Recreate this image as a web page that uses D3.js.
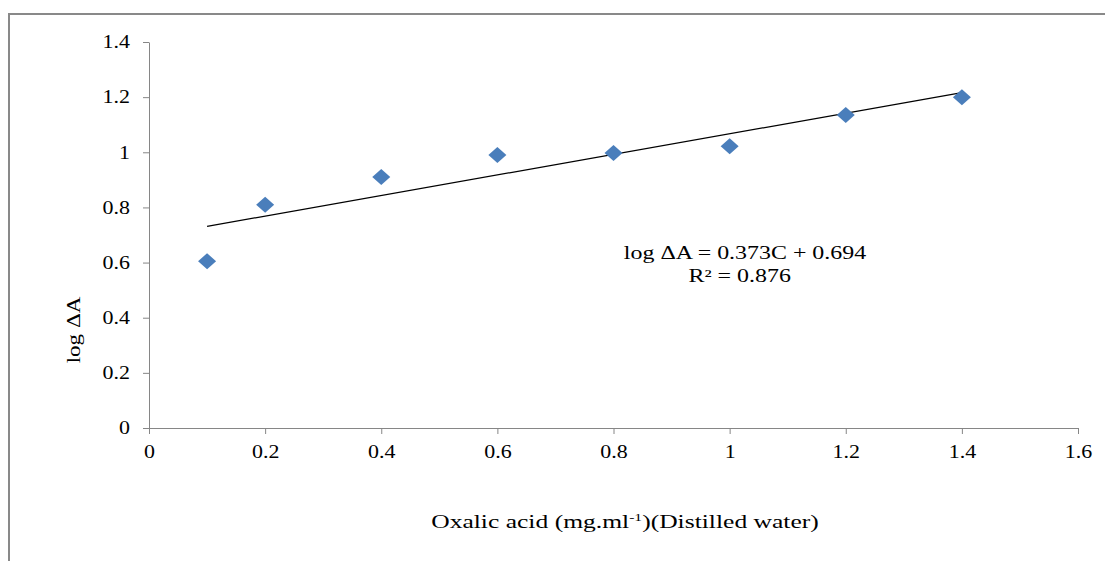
<!DOCTYPE html>
<html lang="en">
<head>
<meta charset="UTF-8">
<title>log ΔA vs oxalic acid</title>
<script src="https://cdn.jsdelivr.net/npm/d3@7"></script>
<style>
  body { margin: 0; background: #fff; }
  svg text { font-family: "Liberation Serif", "Times New Roman", serif; fill: #000; }
</style>
</head>
<body>
<svg width="1105" height="561"></svg>
<script>
// data
var conc = [0.1, 0.2, 0.4, 0.6, 0.8, 1.0, 1.2, 1.4];
var logDA = [0.605, 0.81, 0.91, 0.99, 0.997, 1.022, 1.135, 1.2];
var xTicks = [0, 0.2, 0.4, 0.6, 0.8, 1, 1.2, 1.4, 1.6];
var yTicks = [0, 0.2, 0.4, 0.6, 0.8, 1, 1.2, 1.4];
var slope = 0.373, intercept = 0.694;

var svg = d3.select("svg");

// outer frame (top + left edges only visible)
svg.append("path")
  .attr("d", "M9,561V14H1105")
  .attr("fill", "none")
  .attr("stroke", "#898989")
  .attr("stroke-width", 2);

var x = d3.scaleLinear().domain([0, 1.6]).range([149, 1078]);
var y = d3.scaleLinear().domain([0, 1.4]).range([428, 42]);

var axisColor = "#868686";
var stretch = 1.22; // the original text is drawn wide

var gx = svg.append("g").attr("transform", "translate(0,428)")
  .call(d3.axisBottom(x).tickValues(xTicks).tickSize(6).tickSizeOuter(0)
    .tickFormat(function(d){ return String(d); }));
var gy = svg.append("g").attr("transform", "translate(149,0)")
  .call(d3.axisLeft(y).tickValues(yTicks).tickSize(6).tickSizeOuter(0)
    .tickFormat(function(d){ return String(d); }));

[gx, gy].forEach(function(g){
  g.select(".domain").attr("stroke", axisColor);
  g.selectAll(".tick line").attr("stroke", axisColor);
  g.selectAll(".tick text").attr("font-size", 18)
    .attr("font-family", "Liberation Serif, serif").attr("fill", "#000")
    .attr("transform", "scale(" + stretch + ",1)");
});
gx.selectAll(".tick text").attr("dy", "1.15em");
gy.selectAll(".tick text").attr("x", -19 / stretch);

// trendline
svg.append("line")
  .attr("x1", x(0.1)).attr("y1", y(slope * 0.1 + intercept))
  .attr("x2", x(1.4)).attr("y2", y(slope * 1.4 + intercept))
  .attr("stroke", "#000").attr("stroke-width", 1.2);

// diamond markers
svg.append("g").selectAll("path")
  .data(conc.map(function(c, i){ return [c, logDA[i]]; }))
  .enter().append("path")
  .attr("transform", function(d){ return "translate(" + x(d[0]) + "," + y(d[1]) + ")"; })
  .attr("d", "M0,-8L9,0L0,8L-9,0Z")
  .attr("fill", "#4a7ebb");

// equation
var eq = svg.append("g").attr("transform", "translate(745,0) scale(1.33,1)");
eq.append("text").attr("x", 0).attr("y", 259).attr("text-anchor", "middle")
  .attr("font-size", 18).text("log ΔA = 0.373C + 0.694");
eq.append("text").attr("x", -4).attr("y", 282).attr("text-anchor", "middle")
  .attr("font-size", 18).text("R² = 0.876");

// axis titles
svg.append("text")
  .attr("transform", "translate(80,330) rotate(-90) scale(1.28,1)")
  .attr("text-anchor", "middle").attr("font-size", 18)
  .text("log ΔA");

var xt = svg.append("g").attr("transform", "translate(625,528) scale(1.42,1)")
  .append("text").attr("x", 0).attr("y", 0)
  .attr("text-anchor", "middle").attr("font-size", 18);
xt.append("tspan").text("Oxalic acid (mg.ml");
xt.append("tspan").attr("font-size", 11).attr("dy", -7).text("-1");
xt.append("tspan").attr("dy", 7).text(")(Distilled water)");
</script>
</body>
</html>
